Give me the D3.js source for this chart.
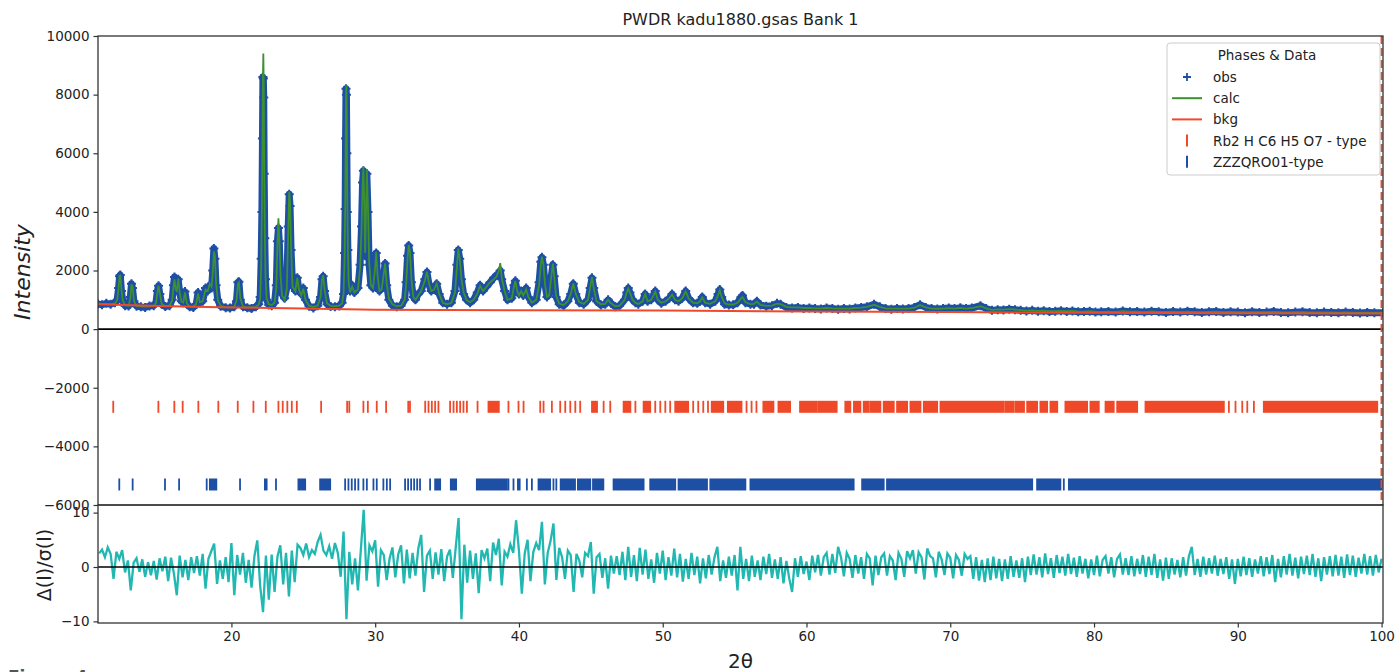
<!DOCTYPE html>
<html>
<head>
<meta charset="utf-8">
<script src="https://cdn.jsdelivr.net/npm/d3@7"></script>
<style>
body { margin: 0; background: #fff; }
svg { display: block; font-family: "DejaVu Sans", sans-serif; }
</style>
</head>
<body>
<svg id="chart" width="1397" height="672"></svg>
<script>
var profile = [
	[10.72,860,870],[11.0,830,860],[11.3,880,860],[11.6,850,850],[11.9,900,880],
	[12.05,1000,980],[12.15,1400,1380],[12.22,1800,1820],[12.27,1850,1830],[12.35,1300,1350],[12.45,950,960],[12.6,800,820],
	[12.85,790,800],[12.97,1100,1050],[13.05,1550,1530],[13.12,1400,1450],[13.22,950,960],[13.4,780,790],
	[13.7,760,780],[14.0,740,770],[14.3,790,775],[14.6,800,790],
	[14.75,900,880],[14.85,1300,1250],[14.93,1480,1480],[15.02,1200,1220],[15.15,850,860],[15.4,770,780],[15.7,800,810],
	[15.88,1000,980],[15.97,1500,1450],[16.04,1780,1700],[16.12,1300,1350],[16.2,1350,1300],[16.3,1700,1720],[16.4,1250,1250],[16.52,950,940],
	[16.65,900,910],[16.77,1280,1250],[16.9,850,880],[17.1,760,770],[17.35,740,760],
	[17.55,850,860],[17.68,1250,1220],[17.8,900,920],
	[18.0,950,950],[18.2,1400,1350],[18.35,1300,1300],[18.5,1500,1550],[18.62,1400,1450],
	[18.7,2000,1900],[18.78,2750,2650],[18.85,2400,2500],[18.93,1500,1600],[19.05,1000,1000],[19.25,780,790],[19.6,730,750],[19.9,720,740],[20.2,760,760],
	[20.35,950,950],[20.45,1600,1550],[20.52,1620,1600],[20.62,1000,1050],[20.8,760,770],[21.1,730,740],[21.4,700,740],[21.7,760,760],[21.9,850,830],
	[22.0,1100,1050],[22.07,2400,2200],[22.12,4000,4200],[22.16,6500,6600],[22.19,8600,8500],[22.22,8550,9400],[22.25,7900,8300],[22.28,5300,5500],[22.32,3100,3300],[22.37,1700,1800],[22.45,1000,1050],[22.6,820,850],[22.8,800,820],
	[23.0,900,900],[23.12,1500,1400],[23.2,3000,2900],[23.27,3450,3780],[23.33,3000,3100],[23.42,1700,1800],[23.52,1200,1150],
	[23.7,1050,1000],[23.85,1400,1350],[23.95,3500,3300],[24.02,4600,4690],[24.08,4200,4300],[24.15,2700,2800],[24.25,1500,1450],
	[24.45,1300,1300],[24.58,1750,1750],[24.7,1300,1350],[24.85,1200,1150],[25.0,1400,1380],[25.15,1000,1000],[25.4,780,800],[25.7,720,760],[26.0,800,800],
	[26.2,1100,1100],[26.3,1700,1700],[26.38,1800,1840],[26.48,1300,1350],[26.65,850,880],[26.9,770,790],[27.2,760,780],[27.5,790,800],[27.7,900,880],
	[27.8,1200,1200],[27.87,2600,2400],[27.91,4100,4000],[27.94,6500,6000],[27.97,8200,8000],[28.0,8000,8330],[28.03,6000,6800],[28.06,4000,4500],[28.1,2700,2800],[28.15,1600,1600],[28.25,1300,1250],[28.4,1500,1450],[28.55,1250,1250],
	[28.8,1400,1350],[28.95,2200,2100],[29.05,3500,3400],[29.12,5000,4900],[29.18,5400,5540],[29.24,4500,4300],[29.3,2500,2600],[29.35,3800,3700],[29.42,5300,5450],[29.5,4000,4100],[29.58,2200,2300],[29.7,1500,1500],
	[29.85,1400,1400],[29.98,2100,2000],[30.07,2600,2640],[30.17,1700,1800],[30.3,1300,1300],[30.45,1400,1350],[30.6,1900,1900],[30.69,2240,2240],[30.8,1500,1550],[30.95,1000,1050],[31.2,800,850],[31.5,760,780],[31.8,800,800],[32.05,1000,1000],
	[32.15,1600,1500],[32.25,2500,2400],[32.33,2850,2870],[32.42,2600,2650],[32.52,1600,1700],[32.65,1100,1100],[32.8,1000,1000],
	[33.0,1200,1150],[33.2,1300,1300],[33.45,1700,1650],[33.6,1950,1960],[33.75,1500,1550],[33.9,1300,1300],[34.1,1350,1350],[34.28,1550,1560],[34.45,1200,1200],[34.7,900,900],[35.0,850,850],[35.3,900,900],[35.55,1300,1250],
	[35.68,2200,2100],[35.78,2700,2750],[35.88,2400,2400],[36.0,1700,1700],[36.15,1200,1250],[36.35,1000,1000],[36.6,900,920],[36.85,1000,1000],
	[37.1,1250,1200],[37.3,1500,1480],[37.5,1300,1300],[37.75,1450,1450],[38.0,1600,1600],[38.25,1750,1700],[38.45,1850,1800],[38.6,1900,2000],[38.7,2000,2250],[38.8,1700,1750],[39.0,1300,1300],[39.2,1000,1000],
	[39.5,1050,1050],[39.65,1500,1450],[39.75,1650,1640],[39.88,1300,1300],[40.0,1200,1150],[40.15,1300,1300],[40.3,1150,1150],[40.5,1400,1350],[40.65,1100,1100],[40.9,900,900],[41.2,1000,1000],
	[41.4,1600,1500],[41.52,2300,2200],[41.6,2450,2470],[41.7,2200,2200],[41.82,1500,1500],[41.95,1100,1100],[42.1,1200,1150],[42.25,1800,1800],[42.36,2200,2240],[42.45,1800,1800],[42.58,1100,1150],[42.8,850,870],[43.1,800,820],[43.4,950,950],
	[43.6,1200,1200],[43.78,1550,1560],[43.95,1200,1200],[44.2,900,920],[44.5,850,860],[44.8,1000,1000],
	[44.95,1400,1400],[45.08,1750,1780],[45.2,1400,1400],[45.4,950,950],[45.7,820,850],[46.0,850,860],[46.2,1000,1000],[46.4,880,880],[46.7,760,780],[47.0,800,800],
	[47.35,1000,1000],[47.5,1250,1250],[47.6,1400,1380],[47.72,1250,1250],[47.9,1000,1000],[48.1,900,900],[48.3,850,860],
	[48.6,950,950],[48.78,1200,1200],[48.95,950,950],[49.2,1000,1000],[49.48,1300,1280],[49.65,1000,1000],[49.9,880,900],[50.2,950,950],
	[50.45,1050,1050],[50.65,1200,1180],[50.85,1000,1000],[51.1,950,950],
	[51.35,1050,1050],[51.6,1300,1280],[51.8,1050,1050],[52.1,900,900],[52.4,880,880],
	[52.6,950,950],[52.75,1100,1080],[52.95,900,900],[53.3,850,860],[53.65,950,950],
	[53.85,1200,1150],[53.97,1350,1330],[54.1,1100,1100],[54.3,850,880],[54.6,820,840],[54.9,830,840],[55.2,900,900],
	[55.45,1100,1050],[55.55,1150,1100],[55.75,900,920],[56.1,850,850],[56.35,850,860],
	[56.55,950,940],[56.8,820,830],[57.2,780,790],[57.6,800,800],[57.95,880,870],[58.2,850,850],[58.6,740,760],[59.0,720,740],
	[59.4,740,740],[59.8,700,720],[60.2,720,720],[60.6,700,710],[61.0,690,710],[61.4,720,720],[61.8,700,705],[62.2,680,700],
	[62.6,700,700],[63.0,690,700],[63.4,720,720],[63.8,740,730],[64.2,760,760],[64.7,850,830],[65.1,760,760],[65.5,700,710],
	[65.9,680,700],[66.3,700,700],[66.7,690,700],[67.1,700,700],[67.5,740,730],[67.9,830,820],[68.3,740,740],[68.7,700,700],
	[69.1,690,695],[69.5,700,700],[69.9,720,715],[70.3,700,700],[70.7,730,725],[71.1,700,700],[71.5,720,720],[72.1,800,780],
	[72.5,700,710],[72.9,640,660],[73.3,660,670],[73.7,650,665],[74.1,680,680],[74.5,660,670],[74.9,640,650],[75.3,620,630],
	[75.7,640,640],[76.1,610,620],[76.5,630,630],[76.9,600,615],[77.3,610,615],[77.7,630,625],[78.1,600,610],[78.5,620,620],
	[78.9,590,605],[79.3,600,600],[79.7,610,610],[80.1,580,595],[80.5,590,590],[81.0,600,600],[81.5,580,590],[82.0,620,610],
	[82.5,590,595],[83.0,600,600],[83.5,580,590],[84.0,610,605],[84.5,590,590],[85.0,570,585],[85.5,600,595],[86.0,580,585],
	[86.5,610,600],[87.0,590,590],[87.5,570,580],[88.0,590,585],[88.5,600,595],[89.0,570,580],[89.5,590,585],[90.0,580,580],
	[90.5,560,575],[91.0,590,580],[91.5,570,575],[92.0,580,575],[92.5,600,590],[93.0,570,575],[93.5,560,570],[94.0,580,575],
	[94.5,590,580],[95.0,570,570],[95.5,560,568],[96.0,580,570],[96.5,570,568],[97.0,560,565],[97.5,580,570],[98.0,570,565],
	[98.5,550,560],[99.0,570,562],[99.5,560,560],[100.1,560,558]
];

// refined background, [2θ, intensity]
var background = [
	[10.72,850],[15,790],[20,740],[25,700],[30,665],[35,650],[40,645],[50,635],
	[60,600],[70,580],[80,558],[90,545],[100.1,530]
];

// Δ/σ residual, one value every 0.2° starting at 10.8°
var residualStart = 10.8;
var residualStep = 0.2;
var residual = [
	2.5, 3.2, 1.8, 3.6, 2.4,
	-2.2, 2.8, 1.5, 3.1, -1.0,
	1.2, -4.3, 0.8, 1.6, -0.9,
	1.4, -1.8, 0.9, -1.5, 1.1,
	-2.3, 1.6, -0.8, 1.9, -2.6,
	1.7, -1.2, -5.2, 2.1, -1.9,
	1.3, -2.4, 1.8, -1.1, 2.0,
	-1.6, 2.4, -4.0, 1.5, 2.9,
	4.3, -3.1, 1.2, -2.2, 1.8,
	-2.8, 4.4, -5.2, 2.2, -1.4,
	2.6, -2.9, 1.3, -3.8, 2.0,
	4.9, -3.5, -8.3, 2.1, -6.0,
	2.3, -4.6, 1.9, 4.0, -3.2,
	2.6, -5.4, 3.0, -2.8, 4.1,
	3.5, 2.2, 4.3, 1.8, 3.1,
	2.4, 4.6, 5.9, 3.0, 2.2,
	3.8, 1.5, 4.4, 2.6, -1.8,
	6.5, -9.6, 2.8, -3.2, 1.6,
	-4.3, 3.1, 10.5, -2.5, 4.0,
	2.9, 4.9, -3.6, 3.1, 2.2,
	-2.4, 1.5, 3.6, -1.9, 2.3,
	4.0, -3.0, 3.2, -2.1, 2.6,
	-1.6, 3.4, 5.9, -4.6, 2.1,
	3.0, -2.2, 2.7, -1.4, 3.3,
	-2.6, 1.9, 3.2, -2.0, 3.5,
	9.0, -9.6, 4.1, -2.9, 3.0,
	-2.2, 2.5, -4.8, 3.1, 1.6,
	3.4, -2.6, 4.5, 2.2, 5.2,
	-3.4, 2.8, 1.9, 4.2, 2.6,
	8.6, 3.0, -4.9, 2.5, 5.0,
	-2.6, 2.8, 4.4, 3.1, 8.3,
	-3.2, 2.6, 4.8, 8.0, -2.4,
	3.5, 1.8, -2.2, 3.0, 2.2,
	-4.6, 2.4, 1.2, -1.9, 2.6,
	2.0, 4.6, -4.9, 1.8, 2.4,
	-2.0, 1.6, -4.0, 2.1, -1.2,
	2.0, -1.5, 2.8, -2.4, 3.7,
	-1.8, 2.2, -2.6, 3.5, -1.4,
	3.2, -2.2, 1.4, -2.9, 2.6,
	-1.2, 3.0, -2.4, 1.8, -1.6,
	3.4, -1.9, 2.4, -2.7, 1.5,
	-2.2, 2.6, -1.5, 1.9, -3.0,
	1.6, -2.1, 2.2, -1.4, 1.8,
	3.7, -2.6, 1.2, -2.0, 1.9,
	-1.6, 2.2, -4.3, 3.7, -2.2,
	1.5, -2.6, 2.1, -1.8, 1.2,
	-2.4, 1.9, -1.3, 2.4, -2.0,
	1.4, -2.2, 1.8, -3.0, 1.1,
	-2.1, -4.6, 1.6, -1.8, 2.0,
	-1.3, 1.0, -2.4, 2.1, -1.0,
	2.2, -1.6, 1.8, 2.6, -1.4,
	2.4, -1.1, 3.7, 1.8, -1.7,
	2.6, 1.5, -2.0, 2.2, -1.2,
	1.8, -2.2, 2.4, 1.6, -3.4,
	2.1, -1.5, 1.8, 2.5, -1.6,
	2.0, 1.2, -2.4, 2.6, 1.5,
	-1.8, 2.9, 1.6, 3.1, -1.2,
	2.7, 1.8, -2.3, 3.4, 2.0,
	1.6, -1.9, 2.8, 1.4, -1.5,
	2.5, 1.7, -2.1, 2.2, 1.3,
	-1.6, 2.4, 1.5, 2.0, -2.2,
	1.8, -2.5, 1.3, -2.8, 1.6,
	-2.4, 1.9, -2.1, 1.5, -2.6,
	1.4, -2.2, 2.0, -1.8, 1.2,
	-2.0, 1.6, -2.8, 1.9, -1.5,
	2.3, -1.4, 1.8, -1.9, 2.5,
	-1.3, 1.6, -2.0, 2.2, -1.1,
	1.9, -1.6, 2.4, -1.3, 1.7,
	-1.8, 2.0, -1.2, 1.5, -2.1,
	1.4, -1.5, 2.1, -1.7, 1.3,
	2.0, -1.2, 1.8, -1.9, 1.5,
	2.3, -1.4, 1.6, -1.5, 2.0,
	-1.7, 1.5, -1.3, 2.2, -1.8,
	1.9, -1.5, 2.4, -2.0, 1.4,
	-2.5, 1.7, -2.2, 1.6, -1.4,
	1.3, -1.9, 1.8, -1.6, 2.0,
	3.7, -1.5, 1.5, -1.8, 1.9,
	-1.4, 1.6, -1.2, 2.1, -1.6,
	1.5, -1.3, 1.8, -2.2, 1.4,
	-3.1, 1.5, -1.7, 1.9, -1.5,
	1.6, -1.8, 1.4, -1.2, 2.0,
	-1.7, 1.8, -1.3, 2.2, -2.8,
	1.5, -1.9, 2.0, -1.4, 2.4,
	-1.6, 1.7, -2.1, 1.9, -1.3,
	2.1, -1.5, 2.4, -1.8, 1.6,
	-2.6, 1.8, -1.4, 2.0, -1.7,
	2.2, -1.6, 1.9, -2.0, 2.3,
	-1.5, 2.1, -1.8, 1.7, -1.2,
	2.4, -1.4, 2.0, -1.6, 2.2,
	-1.0, 1.5
];

// reflection positions (2θ); dense runs are given as [from, to]
var rbTicks = [11.78, 14.92, 16.03, 16.61, 17.70, 19.09, 20.44, 21.53, 22.39, 23.27, 23.57, 23.89, 24.20, 24.55,
	26.24, 28.05, 28.2, 29.18, 29.49, 30.11, 30.76, 32.3, 32.42, 33.48, 33.71, 33.94, 34.17, 34.40,
	35.21, 35.45, 35.68, 35.91, 36.14, 36.38, 37.12, 39.27, 39.97, 40.32, 41.48, 41.71, 42.29,
	42.87, 43.22, 43.57, 43.92, 44.26, 45.89, 46.35, 48.1, 49.48, 49.83, 50.18, 50.52,
	52.12, 52.47, 52.82, 53.15, 55.83, 56.18, 56.52, 89.38, 89.84, 90.31, 90.66, 91.12];
var rbBands = [[37.88, 38.6], [45.08, 45.43], [47.28, 47.75], [48.67, 49.13], [50.87, 51.77], [53.41, 54.21],
	[54.53, 55.48], [57.0, 57.7], [58.05, 58.86], [59.55, 60.72], [60.83, 62.1], [62.7, 63.05], [63.3, 63.75],
	[63.98, 64.33], [64.45, 65.14], [65.37, 66.07], [66.3, 67.0], [67.23, 67.93], [68.16, 69.09], [69.32, 73.72],
	[73.84, 74.42], [74.56, 75.13], [75.35, 76.04], [76.27, 76.74], [76.97, 77.44], [78.01, 79.52], [79.75, 80.33],
	[80.8, 81.37], [81.61, 83.0], [83.58, 89.03], [91.81, 99.7]];
var zzTicks = [12.2, 13.13, 15.38, 16.36, 18.28, 20.6, 23.1, 27.91, 28.14, 28.37, 28.6, 28.83, 29.18, 29.42,
	29.88, 30.11, 30.57, 30.81, 31.04, 32.08, 32.29, 32.5, 32.71, 32.92, 33.12, 33.82, 39.27, 39.62,
	40.55, 40.9, 42.4, 42.6, 77.9];
var zzBands = [[18.5, 18.95], [22.33, 22.45], [24.66, 25.13], [26.17, 26.87], [34.17, 34.52], [35.26, 35.63],
	[37.07, 39.16], [39.93, 40.05], [41.36, 42.17], [42.9, 43.9], [44.1, 44.96], [45.15, 45.87], [46.58, 48.67],
	[49.13, 50.87], [51.1, 53.08], [53.31, 55.75], [56.1, 63.28], [63.87, 65.37], [65.6, 75.7], [76.04, 77.66],
	[78.25, 100.0]];

var intensityTicks = [-6000, -4000, -2000, 0, 2000, 4000, 6000, 8000, 10000];
var residualTicks = [-10, 0, 10];
var angleTicks = [20, 30, 40, 50, 60, 70, 80, 90, 100];
var upperLimit = 100.0;

var legendItems = [
	{ label: "obs", kind: "plus", color: "#1d4fa5" },
	{ label: "calc", kind: "line", color: "#3c9030" },
	{ label: "bkg", kind: "line", color: "#f0492a" },
	{ label: "Rb2 H C6 H5 O7 - type", kind: "tick", color: "#f0492a" },
	{ label: "ZZZQRO01-type", kind: "tick", color: "#1d4fa5" }
];

(function() {
	var colors = {
		obs: "#1d4fa5",
		calc: "#3c9030",
		bkg: "#f0492a",
		rb: "#f0492a",
		zz: "#1d4fa5",
		residual: "#22b8b2",
		axis: "#333"
	};

	var svg = d3.select("#chart");

	// plot frame: main panel over residual panel
	var plotLeft = 98, plotRight = 1383;
	var plotTop = 36, plotSplit = 505, plotBottom = 623;

	var x = d3.scaleLinear().domain([10.72, 100.1]).range([plotLeft, plotRight]);
	var y = d3.scaleLinear().domain([-6000, 10000]).range([plotSplit, plotTop]);
	var yr = d3.scaleLinear().domain([-10.3, 11.4]).range([plotBottom, plotSplit]);

	svg.append("clipPath").attr("id", "clip-main")
		.append("rect").attr("x", plotLeft).attr("y", plotTop)
		.attr("width", plotRight - plotLeft).attr("height", plotSplit - plotTop);
	svg.append("clipPath").attr("id", "clip-res")
		.append("rect").attr("x", plotLeft).attr("y", plotSplit)
		.attr("width", plotRight - plotLeft).attr("height", plotBottom - plotSplit);

	var main = svg.append("g").attr("clip-path", "url(#clip-main)");

	// observed points: a thick band plus a cross at every point
	main.append("path")
		.datum(profile)
		.attr("fill", "none")
		.attr("stroke", colors.obs)
		.attr("stroke-width", 7)
		.attr("stroke-linejoin", "round")
		.attr("d", d3.line().x(function(d) { return x(d[0]); }).y(function(d) { return y(d[1]); }));

	main.selectAll("path.obs")
		.data(profile)
		.enter().append("path")
		.attr("class", "obs")
		.attr("d", function(d) {
			var px = x(d[0]), py = y(d[1]);
			return "M" + (px - 4.5) + "," + py + "H" + (px + 4.5) + "M" + px + "," + (py - 4.5) + "V" + (py + 4.5);
		})
		.attr("stroke", colors.obs)
		.attr("stroke-width", 2);

	main.append("path")
		.datum(profile)
		.attr("fill", "none")
		.attr("stroke", colors.calc)
		.attr("stroke-width", 1.8)
		.attr("d", d3.line().x(function(d) { return x(d[0]); }).y(function(d) { return y(d[2]); }));

	main.append("path")
		.datum(background)
		.attr("fill", "none")
		.attr("stroke", colors.bkg)
		.attr("stroke-width", 2)
		.attr("d", d3.line().x(function(d) { return x(d[0]); }).y(function(d) { return y(d[1]); }));

	// zero line
	main.append("line")
		.attr("x1", plotLeft).attr("x2", plotRight)
		.attr("y1", y(0)).attr("y2", y(0))
		.attr("stroke", "#000").attr("stroke-width", 1.6);

	// reflection ticks, each phase on its own row
	function drawPhase(ticks, bands, level, color) {
		var y0 = y(level) - 6, y1 = y(level) + 6;
		main.selectAll(null)
			.data(ticks)
			.enter().append("line")
			.attr("x1", function(d) { return x(d); })
			.attr("x2", function(d) { return x(d); })
			.attr("y1", y0).attr("y2", y1)
			.attr("stroke", color).attr("stroke-width", 1.8);
		main.selectAll(null)
			.data(bands)
			.enter().append("rect")
			.attr("x", function(d) { return x(d[0]) - 0.9; })
			.attr("width", function(d) { return x(d[1]) - x(d[0]) + 1.8; })
			.attr("y", y0).attr("height", y1 - y0)
			.attr("fill", color);
	}
	drawPhase(rbTicks, rbBands, -2650, colors.rb);
	drawPhase(zzTicks, zzBands, -5300, colors.zz);

	// residual panel
	var res = svg.append("g").attr("clip-path", "url(#clip-res)");
	res.append("path")
		.datum(residual)
		.attr("fill", "none")
		.attr("stroke", colors.residual)
		.attr("stroke-width", 2.3)
		.attr("d", d3.line()
			.x(function(d, i) { return x(residualStart + i * residualStep); })
			.y(function(d) { return yr(d); }));
	res.append("line")
		.attr("x1", plotLeft).attr("x2", plotRight)
		.attr("y1", yr(0)).attr("y2", yr(0))
		.attr("stroke", "#000").attr("stroke-width", 1.6);

	// upper 2θ limit marker
	svg.append("line")
		.attr("x1", x(upperLimit)).attr("x2", x(upperLimit))
		.attr("y1", plotTop).attr("y2", plotSplit)
		.attr("stroke", colors.bkg).attr("stroke-width", 2)
		.attr("stroke-dasharray", "8,4");

	// frames
	svg.append("rect").attr("x", plotLeft).attr("y", plotTop)
		.attr("width", plotRight - plotLeft).attr("height", plotSplit - plotTop)
		.attr("fill", "none").attr("stroke", colors.axis).attr("stroke-width", 1.3);
	svg.append("rect").attr("x", plotLeft).attr("y", plotSplit)
		.attr("width", plotRight - plotLeft).attr("height", plotBottom - plotSplit)
		.attr("fill", "none").attr("stroke", colors.axis).attr("stroke-width", 1.3);

	function styleAxis(g) {
		g.select(".domain").remove();
		g.selectAll(".tick line").attr("stroke", colors.axis).attr("stroke-width", 1.2);
		g.selectAll(".tick text").attr("fill", "#222").style("font-size", "13.5px")
			.style("font-family", "'DejaVu Sans', sans-serif");
	}

	svg.append("g")
		.attr("transform", "translate(" + plotLeft + ",0)")
		.call(d3.axisLeft(y).tickValues(intensityTicks).tickFormat(d3.format("d")).tickSize(4.5).tickPadding(4))
		.call(styleAxis);

	svg.append("g")
		.attr("transform", "translate(" + plotLeft + ",0)")
		.call(d3.axisLeft(yr).tickValues(residualTicks).tickFormat(d3.format("d")).tickSize(4.5).tickPadding(4))
		.call(styleAxis);

	svg.append("g")
		.attr("transform", "translate(0," + plotBottom + ")")
		.call(d3.axisBottom(x).tickValues(angleTicks).tickFormat(d3.format("d")).tickSize(4.5).tickPadding(4))
		.call(styleAxis);

	// titles
	svg.append("text")
		.attr("x", (plotLeft + plotRight) / 2).attr("y", 25)
		.attr("text-anchor", "middle")
		.style("font-size", "16px").attr("fill", "#222")
		.text("PWDR kadu1880.gsas Bank 1");

	svg.append("text")
		.attr("transform", "translate(30,272) rotate(-90)")
		.attr("text-anchor", "middle")
		.style("font-size", "22px").style("font-style", "italic").attr("fill", "#222")
		.text("Intensity");

	svg.append("text")
		.attr("transform", "translate(51,565) rotate(-90)")
		.attr("text-anchor", "middle")
		.style("font-size", "19px").attr("fill", "#222")
		.text("Δ(I)/σ(I)");

	svg.append("text")
		.attr("x", (plotLeft + plotRight) / 2).attr("y", 668)
		.attr("text-anchor", "middle")
		.style("font-size", "20px").attr("fill", "#222")
		.text("2θ");

	svg.append("text")
		.attr("x", 8).attr("y", 683)
		.style("font-size", "17px").style("font-weight", "bold").attr("fill", "#555")
		.text("Figure 4");

	// legend
	var legend = svg.append("g").attr("transform", "translate(1167,43)");
	legend.append("rect")
		.attr("width", 213).attr("height", 132).attr("rx", 3)
		.attr("fill", "#fff").attr("fill-opacity", 0.85)
		.attr("stroke", "#ccc");
	legend.append("text")
		.attr("x", 100).attr("y", 17)
		.attr("text-anchor", "middle")
		.style("font-size", "13.5px").attr("fill", "#222")
		.text("Phases & Data");

	var rows = legend.selectAll("g.item")
		.data(legendItems)
		.enter().append("g")
		.attr("class", "item")
		.attr("transform", function(d, i) { return "translate(0," + (34 + i * 21.2) + ")"; });

	rows.each(function(d) {
		var g = d3.select(this);
		if (d.kind === "plus") {
			g.append("path").attr("d", "M16,0H24M20,-4V4").attr("stroke", d.color).attr("stroke-width", 1.8);
		}
		else if (d.kind === "line") {
			g.append("line").attr("x1", 5).attr("x2", 35).attr("y1", 0).attr("y2", 0)
				.attr("stroke", d.color).attr("stroke-width", 2);
		}
		else {
			g.append("line").attr("x1", 20).attr("x2", 20).attr("y1", -6).attr("y2", 6)
				.attr("stroke", d.color).attr("stroke-width", 2);
		}
		g.append("text")
			.attr("x", 46).attr("y", 5)
			.style("font-size", "13.5px").attr("fill", "#222")
			.text(d.label);
	});
})();
</script>
</body>
</html>
